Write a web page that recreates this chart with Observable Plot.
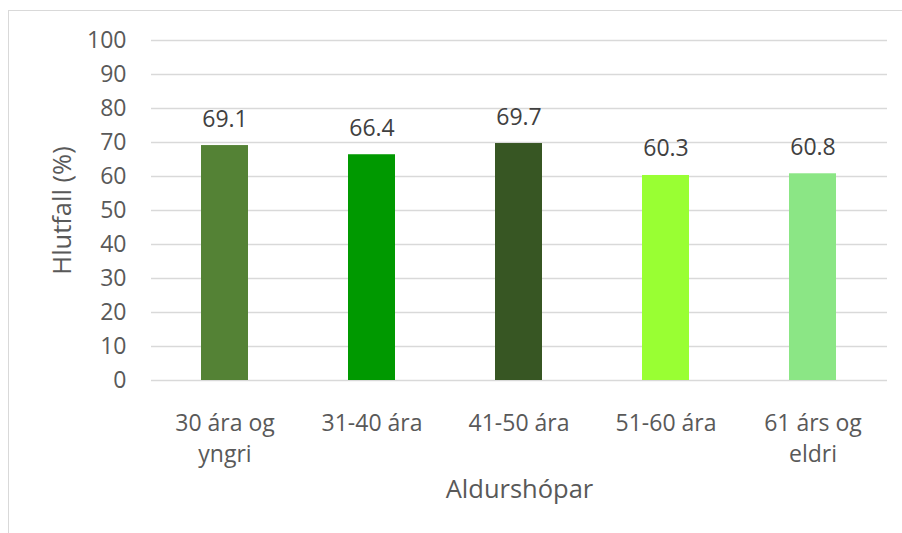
<!DOCTYPE html>
<html>
<head>
<meta charset="utf-8">
<script src="https://cdn.jsdelivr.net/npm/d3@7"></script>
<script src="https://cdn.jsdelivr.net/npm/@observablehq/plot@0.6"></script>
<style>
  html, body { margin: 0; padding: 0; background: #ffffff; }
  #wrap { position: relative; width: 902px; height: 533px; overflow: hidden; }
  #border { position: absolute; left: 8px; top: 10px; width: 1000px; height: 1000px;
            border: 1.5px solid #d9d9d9; box-sizing: border-box; }
  #chart { position: absolute; left: 0; top: 0; }
</style>
</head>
<body>
<div id="wrap"><div id="border"></div><div id="chart"></div></div>
<script>
// Age groups, their displayed (wrapped) labels and the share for each group
const categories = ["30 ára og yngri", "31-40 ára", "41-50 ára", "51-60 ára", "61 árs og eldri"];
const tickLabels = ["30 ára og\nyngri", "31-40 ára", "41-50 ára", "51-60 ára", "61 árs og\neldri"];
const values = [69.1, 66.4, 69.7, 60.3, 60.8];
const barColors = ["#548235", "#009900", "#375623", "#99ff33", "#8be685"];
const yTicks = [0, 10, 20, 30, 40, 50, 60, 70, 80, 90, 100];

const data = categories.map((c, i) => ({cat: c, value: values[i]}));

const chart = Plot.plot({
  width: 902,
  height: 533,
  marginLeft: 151,
  marginRight: 15,
  marginTop: 40,
  marginBottom: 153,
  style: {fontFamily: "'Open Sans', sans-serif", fontSize: "23px", background: "transparent"},
  x: {domain: categories, paddingInner: 0.68, paddingOuter: 0.34, label: null},
  y: {domain: [0, 100], label: null},
  color: {domain: categories, range: barColors},
  marks: [
    Plot.gridY(yTicks, {stroke: "#d9d9d9", strokeOpacity: 1, strokeWidth: 1.5}),
    Plot.axisY(yTicks, {tickSize: 0, tickPadding: 25, fill: "#595959", label: null}),
    Plot.axisX({
      tickSize: 0, tickPadding: 29, lineHeight: 1.33, fill: "#595959", label: null,
      tickFormat: d => tickLabels[categories.indexOf(d)]
    }),
    Plot.barY(data, {x: "cat", y: "value", fill: "cat"}),
    Plot.text(data, {
      x: "cat", y: "value", text: d => d.value.toFixed(1),
      lineAnchor: "bottom", dy: -19, fill: "#404040"
    }),
    Plot.text(["Hlutfall (%)"], {
      frameAnchor: "left", textAnchor: "middle", lineAnchor: "middle",
      rotate: -90, dx: -89, fontSize: 25.5, fill: "#595959"
    }),
    Plot.text(["Aldurshópar"], {
      frameAnchor: "bottom", textAnchor: "middle", lineAnchor: "bottom",
      dy: 117, fontSize: 25.5, fill: "#595959"
    })
  ]
});

document.getElementById("chart").appendChild(chart);
</script>
</body>
</html>
